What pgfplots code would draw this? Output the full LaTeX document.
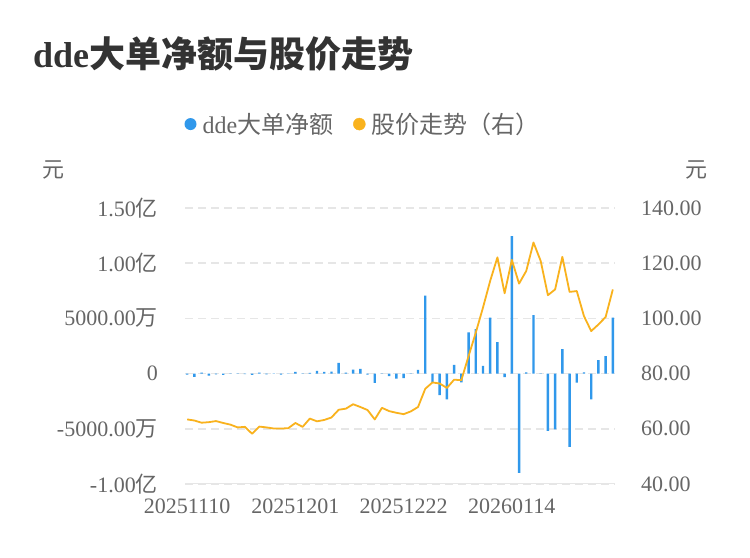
\documentclass[border=0pt]{standalone}
\usepackage{fontspec}
\setmainfont{Liberation Serif}
\newfontfamily\cjk{Noto Sans CJK SC}
\newfontfamily\cjkb{Noto Sans CJK SC Bold}
\usepackage{pgfplots}
\pgfplotsset{compat=1.18}
\definecolor{bluec}{HTML}{3098EB}
\definecolor{orangec}{HTML}{F9B21D}
\definecolor{gridc}{HTML}{E6E6E6}
\definecolor{labc}{HTML}{666666}
\definecolor{titc}{HTML}{333333}
\newcommand\zh[1]{{\cjk #1}}
\begin{document}
\begin{tikzpicture}[x=1bp,y=1bp]
\useasboundingbox (0,0) rectangle (750,558);
\fill[white] (0,0) rectangle (750,558);
\node[anchor=base west, inner sep=0pt, text=titc, font=\fontsize{36bp}{42bp}\selectfont\bfseries] at (33,490) {dde{\cjkb 大单净额与股价走势}};
\node[anchor=center, inner sep=0pt, text=labc, font=\fontsize{22bp}{26bp}\selectfont] at (53.5,388) {\zh{元}};
\node[anchor=center, inner sep=0pt, text=labc, font=\fontsize{22bp}{26bp}\selectfont] at (696,388) {\zh{元}};
\begin{axis}[
  at={(185bp,74bp)}, anchor=south west, scale only axis,
  width=430bp, height=276bp,
  xmin=-0.3, xmax=59.3, ymin=-10000, ymax=15000,
  scaled y ticks=false, scaled x ticks=false,
  axis line style={draw=none},
  tick style={draw=none},
  ytick={-10000,-5000,0,5000,10000,15000},
  yticklabels={-1.00\zh{亿},-5000.00\zh{万},0,5000.00\zh{万},1.00\zh{亿},1.50\zh{亿}},
  xtick={0,15,30,45},
  xticklabels={20251110,20251201,20251222,20260114},
  ymajorgrids,
  major grid style={gridc, line width=1.5bp, dash pattern=on 8bp off 5bp},
  ticklabel style={font=\fontsize{22bp}{26bp}\selectfont, text=labc},
  yticklabel style={inner sep=0pt, xshift=-27bp, anchor=east},
  xticklabel style={inner sep=0pt, yshift=-15bp, anchor=north},
  legend style={at={(0.414,1.304)}, anchor=center, draw=none, fill=none,
    legend columns=2, font=\fontsize{24bp}{28bp}\selectfont, text=labc,
    /tikz/every even column/.append style={column sep=18bp}},
  legend cell align=left,
]
\draw[gridc, line width=1.5bp] (rel axis cs:0,0) -- (rel axis cs:1,0);
\addplot[ybar, bar width=2.4bp, fill=bluec, draw=none,
  legend image code/.code={\fill[bluec] (0bp,0bp) circle (6bp); \path (10bp,0bp);}] coordinates {
(0,-100) (1,-300) (2,90) (3,-180) (4,-60) (5,-120) (6,-30) (7,-30) (8,-50) (9,-120)
(10,90) (11,-60) (12,-20) (13,-90) (14,20) (15,160) (16,30) (17,60) (18,240) (19,150)
(20,180) (21,970) (22,90) (23,360) (24,420) (25,-90) (26,-850) (27,-30) (28,-240) (29,-450)
(30,-420) (31,-20) (32,330) (33,7060) (34,-820) (35,-1940) (36,-2330) (37,790) (38,-790) (39,3730)
(40,4030) (41,700) (42,5060) (43,2850) (44,-330) (45,12450) (46,-9000) (47,120) (48,5300) (49,-15)
(50,-5180) (51,-5060) (52,2210) (53,-6640) (54,-820) (55,120) (56,-2330) (57,1210) (58,1580) (59,5060)
};
\addlegendentry{dde\zh{大单净额}}
\addlegendimage{legend image code/.code={\fill[orangec] (0bp,0bp) circle (6bp); \path (10bp,0bp);}}
\addlegendentry{\zh{股价走势（右）}}
\end{axis}
\begin{axis}[
  at={(185bp,74bp)}, anchor=south west, scale only axis,
  width=430bp, height=276bp,
  xmin=-0.3, xmax=59.3, ymin=40, ymax=140,
  axis line style={draw=none},
  tick style={draw=none},
  xtick=\empty,
  ytick={40,60,80,100,120,140},
  yticklabels={40.00,60.00,80.00,100.00,120.00,140.00},
  yticklabel pos=right,
  ticklabel style={font=\fontsize{22bp}{26bp}\selectfont, text=labc},
  yticklabel style={inner sep=0pt, xshift=26bp, anchor=west},
]
\addplot[orangec, line width=1.8bp, no marks, line join=round] coordinates {
(0,63.4) (1,63.0) (2,62.2) (3,62.4) (4,62.8) (5,62.1) (6,61.5) (7,60.5) (8,60.7) (9,58.2)
(10,60.8) (11,60.5) (12,60.1) (13,60.1) (14,60.2) (15,62.1) (16,60.7) (17,63.7) (18,62.7) (19,63.2)
(20,64.1) (21,66.9) (22,67.3) (23,68.9) (24,67.9) (25,66.8) (26,63.4) (27,67.6) (28,66.4) (29,65.8)
(30,65.3) (31,66.3) (32,67.9) (33,74.5) (34,76.8) (35,76.4) (36,74.8) (37,77.8) (38,77.6) (39,86.3)
(40,94.8) (41,103.9) (42,113.6) (43,122.1) (44,109.1) (45,121.2) (46,112.6) (47,117.2) (48,127.5) (49,120.8)
(50,108.4) (51,110.5) (52,122.3) (53,109.6) (54,109.9) (55,100.8) (56,95.4) (57,97.8) (58,100.5) (59,110.5)
};
\end{axis}
\end{tikzpicture}
\end{document}
